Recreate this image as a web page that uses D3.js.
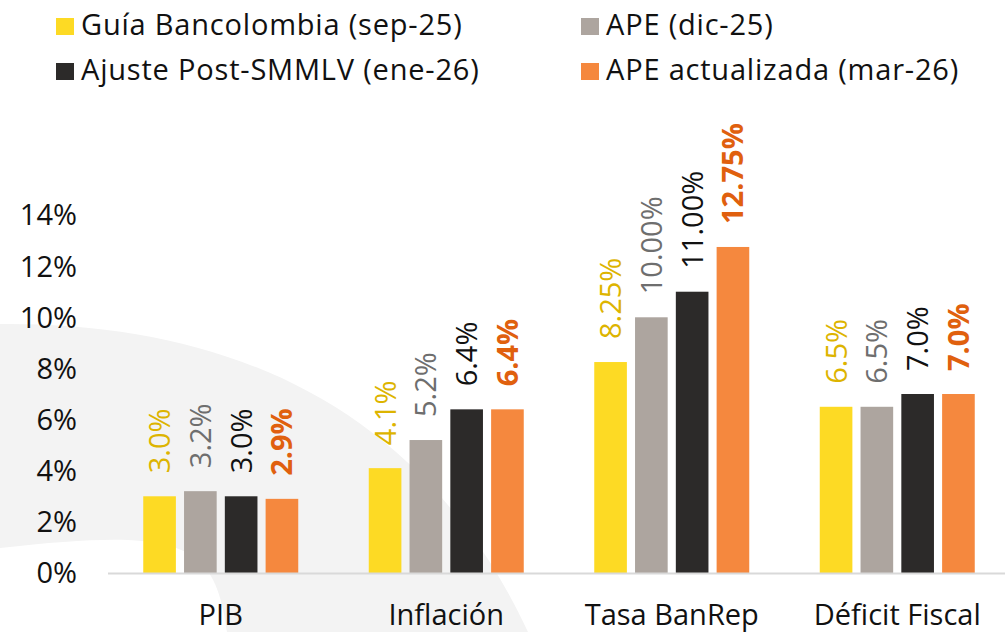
<!DOCTYPE html>
<html>
<head>
<meta charset="utf-8">
<script src="https://cdn.jsdelivr.net/npm/d3@7"></script>
<style>
  html, body { margin: 0; padding: 0; background: #fff; }
  svg { display: block; font-family: "Open Sans", "Noto Sans", sans-serif; }
</style>
</head>
<body>
<svg id="chart" width="1005" height="632"></svg>
<script>
// Macro forecasts by scenario (percent)
const categories = ["PIB", "Inflación", "Tasa BanRep", "Déficit Fiscal"];
const seriesNames = ["Guía Bancolombia (sep-25)", "APE (dic-25)", "Ajuste Post-SMMLV (ene-26)", "APE actualizada (mar-26)"];
const guiaSep25 = [3.0, 4.1, 8.25, 6.5];
const apeDic25 = [3.2, 5.2, 10.0, 6.5];
const ajusteEne26 = [3.0, 6.4, 11.0, 7.0];
const apeMar26 = [2.9, 6.4, 12.75, 7.0];
const labelDecimals = [1, 1, 2, 1];
const yTicks = [0, 2, 4, 6, 8, 10, 12, 14];

const seriesValues = [guiaSep25, apeDic25, ajusteEne26, apeMar26];
const barColors = ["#FDDA24", "#ADA59F", "#2C2A29", "#F5883E"];
const labelColors = ["#DDB400", "#6E6E6E", "#111111", "#E0600E"];
const labelWeights = ["normal", "normal", "normal", "bold"];

const svg = d3.select("#chart");

// soft background swoosh
svg.append("path")
  .attr("d", "M0,324 C220,322 420,400 528,632 L227,632 C215,540 180,528 0,548 Z")
  .attr("fill", "#f3f3f3");

const x0 = d3.scaleBand().domain(categories).range([108, 1010]).padding(0);
const groupW = 155;
const x1 = d3.scaleBand().domain(d3.range(seriesNames.length))
  .range([(x0.bandwidth() - groupW) / 2, (x0.bandwidth() + groupW) / 2])
  .paddingInner(0.2);
const y = d3.scaleLinear().domain([0, 14]).range([573, 215]);

// y tick labels
svg.append("g").selectAll("text").data(yTicks).join("text")
  .attr("x", 77)
  .attr("y", d => y(d))
  .attr("dy", "0.36em")
  .attr("text-anchor", "end")
  .attr("font-size", 29)
  .attr("fill", "#111")
  .text(d => d + "%");

// bars
const rows = categories.map((c, ci) => ({ cat: c, ci, vals: seriesValues.map(s => s[ci]) }));
const groups = svg.append("g").selectAll("g").data(rows).join("g")
  .attr("transform", d => `translate(${x0(d.cat)},0)`);

groups.selectAll("rect").data(d => d.vals.map((v, si) => ({ v, si }))).join("rect")
  .attr("x", d => x1(d.si))
  .attr("width", x1.bandwidth())
  .attr("y", d => y(d.v))
  .attr("height", d => y(0) - y(d.v))
  .attr("fill", d => barColors[d.si]);

// value labels (rotated)
groups.selectAll("text").data(d => d.vals.map((v, si) => ({ v, si, ci: d.ci }))).join("text")
  .attr("transform", d => `translate(${x1(d.si) + x1.bandwidth() / 2 + 10.5},${y(d.v) - 23}) rotate(-90)`)
  .attr("text-anchor", "start")
  .attr("font-size", 29)
  .attr("font-weight", d => labelWeights[d.si])
  .attr("fill", d => labelColors[d.si])
  .text(d => d.v.toFixed(labelDecimals[d.ci]) + "%");

// baseline
svg.append("line")
  .attr("x1", 108).attr("x2", 1005)
  .attr("y1", y(0) + 0.5).attr("y2", y(0) + 0.5)
  .attr("stroke", "#d9d9d9").attr("stroke-width", 2);

// category labels
svg.append("g").selectAll("text").data(categories).join("text")
  .attr("x", d => x0(d) + x0.bandwidth() / 2)
  .attr("y", 625)
  .attr("text-anchor", "middle")
  .attr("font-size", 29)
  .attr("fill", "#111")
  .text(d => d);

// legend
const legendPos = [[56, 35], [581, 35], [56, 80], [581, 80]];
const legend = svg.append("g").selectAll("g").data(seriesNames).join("g")
  .attr("transform", (d, i) => `translate(${legendPos[i][0]},${legendPos[i][1]})`);
legend.append("rect")
  .attr("x", 0).attr("y", -17).attr("width", 18).attr("height", 17)
  .attr("fill", (d, i) => barColors[i]);
legend.append("text")
  .attr("x", 25).attr("y", 0)
  .attr("font-size", 29)
  .attr("letter-spacing", "0.8px")
  .attr("fill", "#111")
  .text(d => d);
</script>
</body>
</html>
